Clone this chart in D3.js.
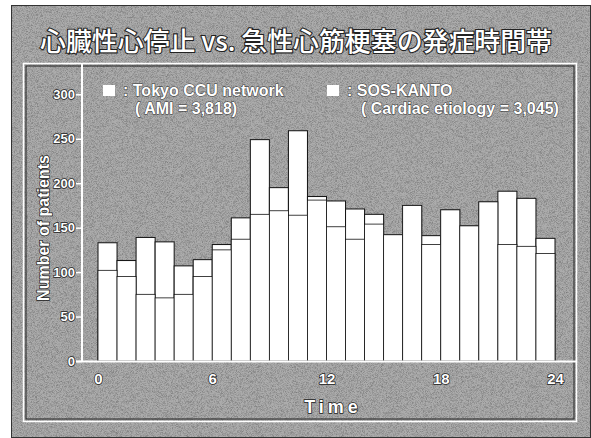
<!DOCTYPE html>
<html><head><meta charset="utf-8">
<script src="https://cdn.jsdelivr.net/npm/d3@7"></script>
<style>
html,body{margin:0;padding:0;background:#fff;}
svg{display:block;}
text{font-family:"Liberation Sans",Arial,sans-serif;}
</style></head>
<body>
<script>
const hours = d3.range(24);
const tokyoCCU = [133,113,139,134,107,114,131,161,249,195,259,185,180,171,165,142,175,141,170,152,179,191,183,138];
const sosKanto = [102,95,75,71,75,95,125,137,165,169,164,181,151,137,154,142,175,131,170,152,179,131,129,121];
const yTicks = [0,50,100,150,200,250,300];
const xTicks = [0,6,12,18,24];
const title = "心臓性心停止 vs. 急性心筋梗塞の発症時間帯";
const legend = [
  {name:"Tokyo CCU network", note:"( AMI = 3,818)"},
  {name:"SOS-KANTO", note:"( Cardiac etiology = 3,045)"}
];

const W=591,H=438;
const svg=d3.select("body").append("svg").attr("width",W).attr("height",H);
const defs=svg.append("defs");
const f=defs.append("filter").attr("id","grain").attr("x",0).attr("y",0).attr("width","100%").attr("height","100%");
f.append("feTurbulence").attr("type","fractalNoise").attr("baseFrequency",1.8).attr("numOctaves",1).attr("seed",3).attr("result","n");
f.append("feColorMatrix").attr("in","n").attr("type","matrix")
 .attr("values","0 0 0 0 0  0 0 0 0 0  0 0 0 0 0  0 0 0 -2 1.2").attr("result","a");
f.append("feComposite").attr("in","a").attr("in2","SourceGraphic").attr("operator","in");

// panel background
svg.append("rect").attr("x",11).attr("y",5).attr("width",W-11).attr("height",H-5).attr("fill","#acacac");
svg.append("rect").attr("x",11).attr("y",5).attr("width",W-11).attr("height",H-5).attr("fill","#1a1a1a").attr("opacity",0.33).attr("filter","url(#grain)");
svg.append("rect").attr("x",11.5).attr("y",5.5).attr("width",W-12).attr("height",H-6).attr("fill","none").attr("stroke","#333").attr("stroke-width",1);

// title
svg.append("text").attr("x",296).attr("y",51).attr("text-anchor","middle")
 .attr("textLength",512).attr("lengthAdjust","spacingAndGlyphs")
 .style("font-family","'Noto Sans CJK JP',sans-serif").style("font-size","26px").style("font-weight",500)
 .attr("fill","#fff").attr("stroke","#222").attr("stroke-width",2.2).attr("paint-order","stroke")
 .text(title);

// frame
svg.append("rect").attr("x",23.5).attr("y",63.5).attr("width",553).attr("height",358).attr("fill","none").attr("stroke","#fff").attr("stroke-width",1.5);
svg.append("rect").attr("x",26).attr("y",66).attr("width",548).attr("height",353).attr("fill","none").attr("stroke","#222").attr("stroke-width",1);

const x=d3.scaleLinear().domain([0,24]).range([98,555]);
const y=d3.scaleLinear().domain([0,300]).range([361,94.3]);

// bars
const g=svg.append("g");
g.selectAll("rect.t").data(hours).join("rect").attr("class","t")
 .attr("x",d=>x(d)).attr("width",d=>x(d+1)-x(d))
 .attr("y",d=>y(tokyoCCU[d])).attr("height",d=>y(0)-y(tokyoCCU[d]))
 .attr("fill","#fff").attr("stroke","#111").attr("stroke-width",1);
g.selectAll("rect.s").data(hours).join("rect").attr("class","s")
 .attr("x",d=>x(d)).attr("width",d=>x(d+1)-x(d))
 .attr("y",d=>y(sosKanto[d])).attr("height",d=>y(0)-y(sosKanto[d]))
 .attr("fill","#fff").attr("stroke","#111").attr("stroke-width",0.8);

// axes
const yAxis=d3.axisLeft(y).tickValues(yTicks).tickSize(6).tickPadding(1);
const ya=svg.append("g").attr("transform","translate(82,0)").call(yAxis);
ya.select(".domain").remove();
ya.selectAll("line").attr("stroke","#fff").attr("stroke-width",1.5);
ya.selectAll("text").attr("fill","#fff").attr("stroke","#222").attr("stroke-width",1.5).attr("paint-order","stroke")
  .style("font-size","13px").style("font-weight","bold").style("font-family","'Liberation Sans',Arial,sans-serif");
svg.append("line").attr("x1",82).attr("x2",82).attr("y1",64).attr("y2",362).attr("stroke","#fff").attr("stroke-width",2);
svg.append("line").attr("x1",76).attr("x2",577).attr("y1",361.5).attr("y2",361.5).attr("stroke","#fff").attr("stroke-width",2);

const xAxis=d3.axisBottom(x).tickValues(xTicks).tickSize(0).tickPadding(12).tickFormat(d3.format("d"));
const xa=svg.append("g").attr("transform","translate(0,361)").call(xAxis);
xa.select(".domain").remove();
xa.selectAll("text").attr("fill","#fff").attr("stroke","#222").attr("stroke-width",1.5).attr("paint-order","stroke")
  .style("font-size","15px").style("font-weight","bold").style("font-family","'Liberation Sans',Arial,sans-serif");

// axis titles
svg.append("text").attr("transform","translate(49,228) rotate(-90)").attr("text-anchor","middle")
 .attr("fill","#fff").attr("stroke","#222").attr("stroke-width",1.5).attr("paint-order","stroke")
 .style("font-size","16px").style("font-weight","bold").text("Number of patients");
svg.append("text").attr("x",333).attr("y",413).attr("text-anchor","middle")
 .attr("fill","#fff").attr("stroke","#222").attr("stroke-width",1.5).attr("paint-order","stroke")
 .style("font-size","18px").style("font-weight","bold").style("letter-spacing","4px").text("Time");

// legend
const lx=[103,327];
legend.forEach((l,i)=>{
  svg.append("rect").attr("x",lx[i]).attr("y",85).attr("width",12).attr("height",11).attr("fill","#fff");
  svg.append("text").attr("x",lx[i]+20).attr("y",96).attr("fill","#fff").attr("stroke","#333").attr("stroke-width",1).attr("paint-order","stroke")
   .style("font-size","16px").style("font-weight","bold").text(": "+l.name);
  svg.append("text").attr("x",lx[i]+(i===0?32:34)).attr("y",114).attr("fill","#fff").attr("stroke","#333").attr("stroke-width",1).attr("paint-order","stroke")
   .style("font-size","16px").style("font-weight","bold").text(l.note);
});
</script>
</body></html>
